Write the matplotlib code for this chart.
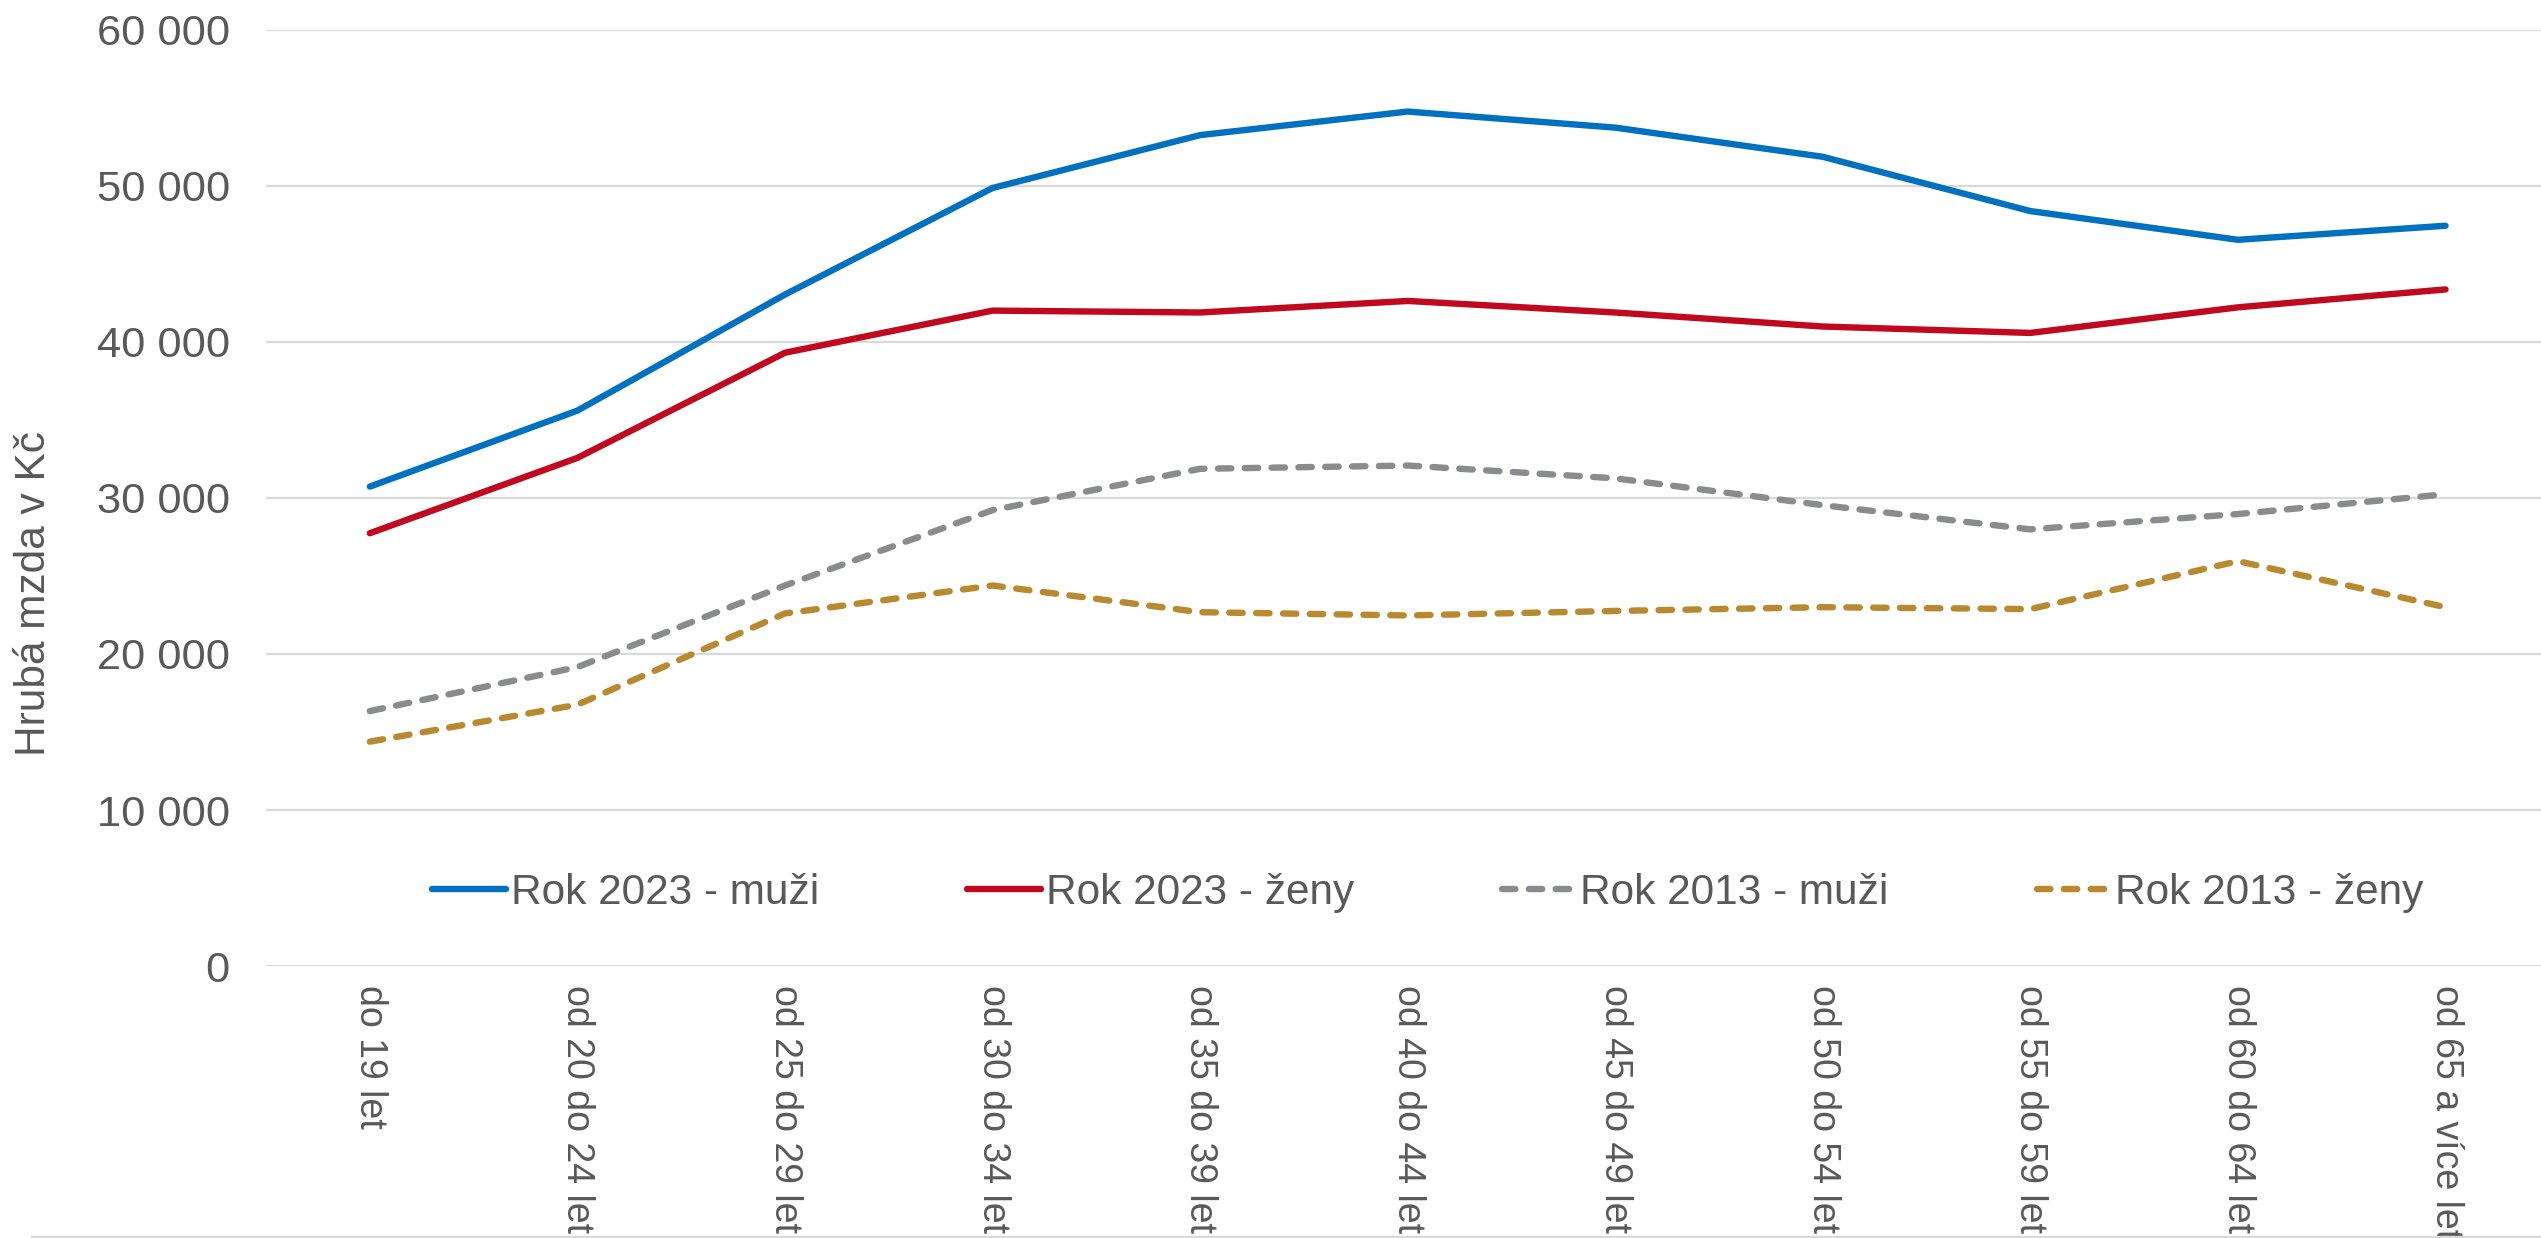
import matplotlib
matplotlib.use("Agg")
import matplotlib.pyplot as plt
from matplotlib.ticker import FuncFormatter
from matplotlib.lines import Line2D

# věkové skupiny a průměrné hrubé mzdy (Kč)
skupiny = ["do 19 let", "od 20 do 24 let", "od 25 do 29 let", "od 30 do 34 let",
           "od 35 do 39 let", "od 40 do 44 let", "od 45 do 49 let", "od 50 do 54 let",
           "od 55 do 59 let", "od 60 do 64 let", "od 65 a více let"]
muzi_2023 = [30730, 35600, 43040, 49870, 53260, 54770, 53740, 51870, 48390, 46550, 47450]
zeny_2023 = [27740, 32570, 39310, 42010, 41890, 42630, 41890, 40990, 40580, 42220, 43370]
muzi_2013 = [16340, 19160, 24390, 29220, 31870, 32080, 31260, 29540, 27990, 28970, 30240]
zeny_2013 = [14380, 16750, 22600, 24390, 22680, 22470, 22760, 23000, 22880, 25950, 23000]

plt.rcParams['font.family'] = ['Liberation Sans', 'DejaVu Sans']
sediva = "#595959"

fig = plt.figure(figsize=(25.41, 12.38), dpi=100)
ax = fig.add_axes([0.1047, 0.2197, 0.8953, 0.7561])

x = range(len(skupiny))
plna = dict(lw=4.6, solid_capstyle="round", solid_joinstyle="round")
carkovana = dict(lw=4.6, dashes=(2.1, 2.1), dash_capstyle="round", dash_joinstyle="round")
ax.plot(x, muzi_2023, color="#0070C0", label="Rok 2023 - muži", zorder=4, **plna)
ax.plot(x, zeny_2023, color="#C0081F", label="Rok 2023 - ženy", zorder=4, **plna)
ax.plot(x, muzi_2013, color="#898B8E", label="Rok 2013 - muži", zorder=3, **carkovana)
ax.plot(x, zeny_2013, color="#B8892E", label="Rok 2013 - ženy", zorder=3, **carkovana)

ax.set_ylim(0, 60000)
ax.set_xlim(-0.5, 10.46)
ax.set_yticks(range(0, 60001, 10000))
ax.yaxis.set_major_formatter(FuncFormatter(lambda v, p: f"{int(v):,}".replace(",", " ")))
ax.grid(axis="y", color="#D9D9D9", lw=1.6)
ax.set_axisbelow(True)
for s in ax.spines.values():
    s.set_visible(False)

ax.set_xticks(list(x))
ax.set_xticklabels(skupiny, rotation=-90, ha="center", va="top", fontsize=27, color=sediva)
ax.tick_params(axis="x", length=0, pad=14)
ax.tick_params(axis="y", length=0, pad=26, labelsize=31.2, labelcolor=sediva)

fig.text(34 / 2541, 1 - 593 / 1238, "Hrubá mzda v Kč", rotation=90, ha="center", va="center",
         fontsize=30.5, color=sediva)

ax.legend(loc="center", bbox_to_anchor=(0.562, 0.2787), bbox_transform=fig.transFigure,
          ncol=4, frameon=False, fontsize=30.5, handlelength=1.75, handletextpad=0.1,
          columnspacing=3.5, labelcolor=sediva)

# spodní okraj grafu
fig.add_artist(Line2D([32 / 2541, 1], [1.5 / 1238, 1.5 / 1238], color="#D9D9D9", lw=1.6,
                      transform=fig.transFigure))

fig.savefig("out.png", dpi=100)
